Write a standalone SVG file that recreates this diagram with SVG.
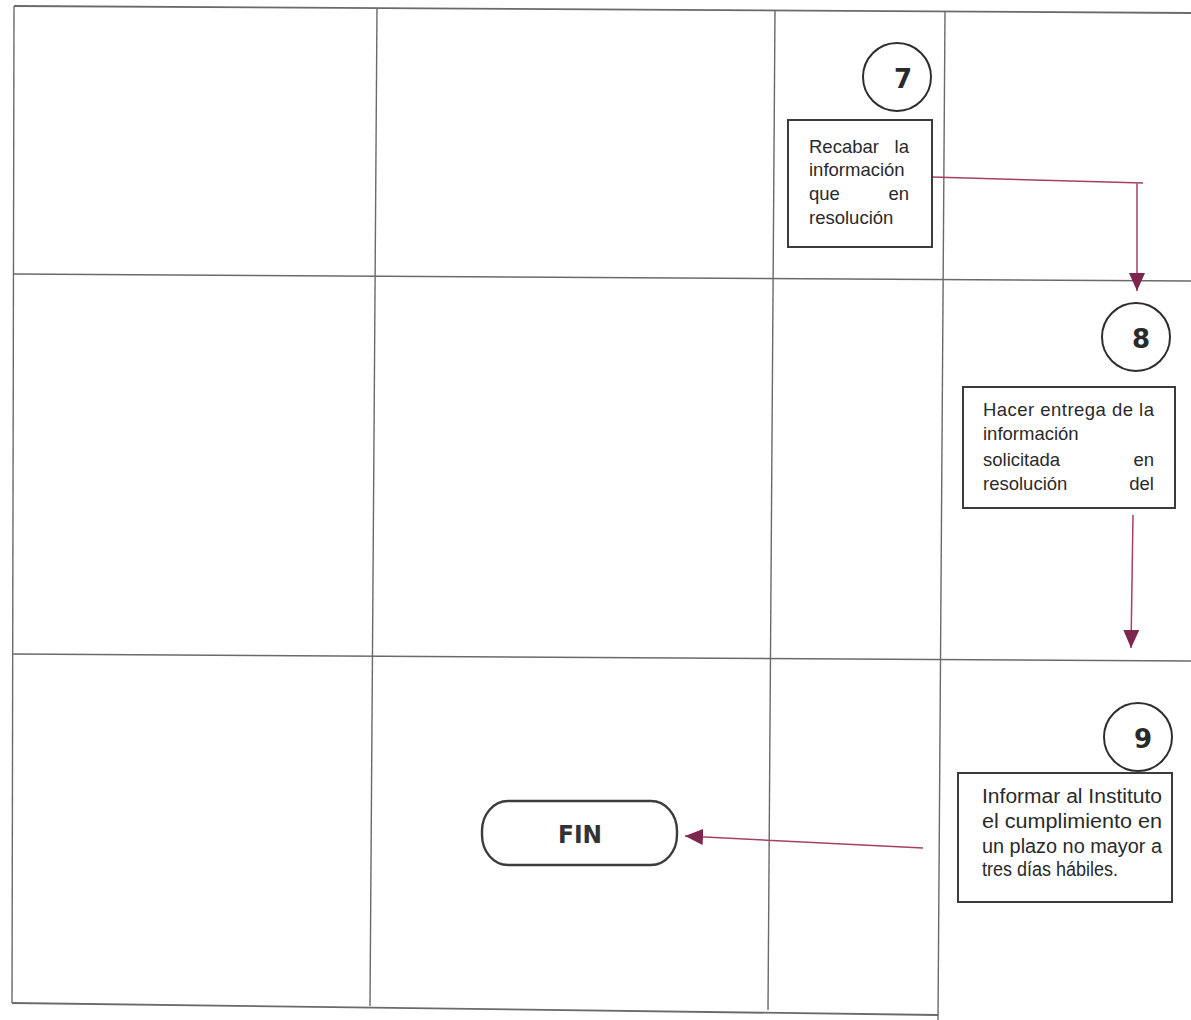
<svg xmlns="http://www.w3.org/2000/svg" width="1191" height="1020" viewBox="0 0 1191 1020">
<defs>
<style>
.grid{stroke:#6a6a6a;stroke-width:1.4;fill:none}
.box{fill:#fff;stroke:#3c3c3c;stroke-width:2}
.circ{fill:#fff;stroke:#2e2e2e;stroke-width:2}
.t{font-family:"Liberation Sans",Arial,sans-serif;font-size:18.5px;fill:#2a2a2a}
.t9{font-family:"Liberation Sans",Arial,sans-serif;font-size:19.5px;fill:#2a2a2a}
.num{font-family:"DejaVu Sans","Liberation Sans",sans-serif;font-size:26px;font-weight:bold;fill:#2a2a2a;text-anchor:middle}
.fin{font-family:"DejaVu Sans","Liberation Sans",sans-serif;font-size:25px;font-weight:bold;fill:#333;text-anchor:middle}
.con{stroke:#a8405f;stroke-width:1.5;fill:none}
.end{text-anchor:end}
</style>
<marker id="ah" markerUnits="userSpaceOnUse" markerWidth="18" markerHeight="16" refX="18" refY="8" orient="auto">
<path d="M0,0 L18,8 L0,16 Z" fill="#7e2650"/>
</marker>
</defs>
<rect x="0" y="0" width="1191" height="1020" fill="#ffffff"/>
<g id="grid">
<line class="grid" x1="14" y1="6" x2="1191" y2="13" style="stroke-width:1.8"/>
<line class="grid" x1="13" y1="274" x2="1191" y2="281"/>
<line class="grid" x1="12" y1="654" x2="1191" y2="661"/>
<line class="grid" x1="12" y1="1003" x2="938" y2="1015" style="stroke-width:1.8"/>
<line class="grid" x1="14" y1="6" x2="12" y2="1003"/>
<line class="grid" x1="377" y1="8" x2="370" y2="1006"/>
<line class="grid" x1="775" y1="10" x2="768" y2="1010"/>
<line class="grid" x1="945" y1="12" x2="938" y2="1020"/>
</g>
<g id="connectors">
<path class="con" d="M932,177 L1143,183 M1137,183 L1137,291" marker-end="url(#ah)"/>
<path class="con" d="M1133,515 L1131,648" marker-end="url(#ah)"/>
<path class="con" d="M923,848 L685,836" marker-end="url(#ah)"/>
</g>
<g id="node7">
<circle class="circ" cx="897" cy="77" r="34"/>
<text class="num" x="903" y="88">7</text>
</g>
<g id="step7">
<rect class="box" x="788" y="120" width="144" height="127"/>
<text class="t" x="809" y="153">Recabar</text><text class="t end" x="909" y="153">la</text>
<text class="t" x="809" y="176">información</text>
<text class="t" x="809" y="200">que</text><text class="t end" x="909" y="200">en</text>
<text class="t" x="809" y="224">resolución</text>
</g>
<g id="node8">
<circle class="circ" cx="1136" cy="337" r="34"/>
<text class="num" x="1141" y="348">8</text>
</g>
<g id="step8">
<rect class="box" x="963" y="387" width="212" height="121"/>
<text class="t" x="983" y="416" textLength="171" lengthAdjust="spacing">Hacer entrega de la</text>
<text class="t" x="983" y="440">información</text>
<text class="t" x="983" y="466">solicitada</text><text class="t end" x="1154" y="466">en</text>
<text class="t" x="983" y="490">resolución</text><text class="t end" x="1154" y="490">del</text>
</g>
<g id="node9">
<circle class="circ" cx="1138" cy="737" r="34"/>
<text class="num" x="1143" y="748">9</text>
</g>
<g id="step9">
<rect class="box" x="958" y="773" width="214" height="129"/>
<text class="t9" x="982" y="803" textLength="180" lengthAdjust="spacingAndGlyphs">Informar al Instituto</text>
<text class="t9" x="982" y="828" textLength="180" lengthAdjust="spacingAndGlyphs">el cumplimiento en</text>
<text class="t9" x="982" y="853" textLength="180" lengthAdjust="spacingAndGlyphs">un plazo no mayor a</text>
<text class="t9" x="982" y="876" textLength="136" lengthAdjust="spacingAndGlyphs">tres días hábiles.</text>
</g>
<g id="fin">
<rect class="box" x="482" y="801" width="195" height="64" rx="26" ry="30" style="stroke-width:2.4"/>
<text class="fin" x="580" y="843" textLength="44" lengthAdjust="spacingAndGlyphs">FIN</text>
</g>
</svg>
